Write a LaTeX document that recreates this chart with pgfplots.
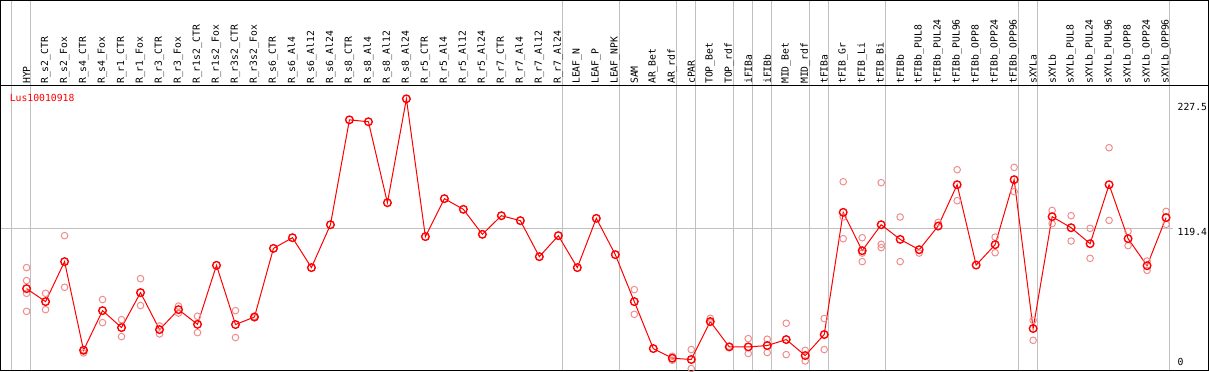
\documentclass[border=0pt]{standalone}
\usepackage{pgfplots}
\pgfplotsset{compat=1.18}
\usepackage{fontspec}
\newfontfamily\monof{DejaVu Sans Mono}
\definecolor{gridc}{RGB}{192,192,192}
\definecolor{rep}{RGB}{240,140,140}
\begin{document}
\begin{tikzpicture}
\begin{axis}[
  scale only axis, width=1209bp, height=370bp,
  xmin=-1.3677, xmax=62.23, ymin=1.58, ymax=309.25,
  xtick=\empty, ytick=\empty,
  axis line style={line width=1.2bp, black},
  clip=true,
]
% vertical group separators
\pgfplotsinvokeforeach{-0.78,0.22,28.22,31.22,34.22,35.22,37.22,38.22,39.22,41.22,42.22,45.22,52.22,53.22,60.18}{
  \draw[gridc, line width=1bp] (axis cs:#1,1.58) -- (axis cs:#1,309.25);
}
% horizontal reference line
\draw[gridc, line width=1bp] (axis cs:-1.3677,119.4) -- (axis cs:60.39,119.4);
% separator under labels
\draw[black, line width=1.2bp] (axis cs:-1.3677,238.57) -- (axis cs:62.23,238.57);

% replicates
\addplot[only marks, mark=o, color=rep, mark size=3.3bp, mark options={line width=1bp}] coordinates {
(0,87.0) (0,76.2) (0,65.6) (0,50.6)
(1,65.6) (1,52.0)
(2,113.6) (2,70.6)
(3,16.0) (3,18.5)
(4,60.4) (4,41.2)
(5,43.7) (5,29.6)
(6,77.8) (6,55.4)
(7,38.4) (7,31.8)
(8,55.0) (8,49.2)
(9,46.5) (9,32.9)
(11,51.2) (11,28.8)
(12,46.5) (12,45.3)
(32,68.7) (32,48.1)
(34,13.2) (34,9.9)
(35,18.8) (35,3.0)
(36,44.8) (36,41.5)
(37,21.5)
(38,27.9) (38,15.5)
(39,27.4) (39,16.3)
(40,40.7) (40,14.6)
(41,18.2) (41,9.3)
(42,44.6) (42,18.8)
(43,158.5) (43,129.1) (43,111.1)
(44,111.9) (44,99.1) (44,92.0)
(45,157.7) (45,106.4) (45,103.6)
(46,129.1) (46,92.0)
(47,99.1)
(48,124.6)
(49,168.5) (49,142.7)
(51,112.4) (51,99.4)
(52,170.4) (52,150.2)
(53,43.2) (53,26.5)
(54,134.6) (54,123.6)
(55,130.2) (55,109.1)
(56,119.7) (56,94.7)
(57,186.8) (57,126.3)
(58,117.2) (58,105.3)
(59,92.5) (59,84.7)
(60,133.8) (60,123.0)
};

% mean line
\addplot[red, line width=1bp, mark=o, mark size=3.8bp, mark options={line width=1.4bp, red}] coordinates {
(0,69.5) (1,58.7) (2,92.0) (3,18.2) (4,51.2) (5,37.1) (6,66.2) (7,35.4) (8,52.0) (9,39.8)
(10,88.9) (11,39.6) (12,45.9) (13,103.0) (14,111.9) (15,87.0) (16,122.7) (17,210.0) (18,208.4) (19,141.0)
(20,227.5) (21,112.8) (22,144.4) (23,135.5) (24,114.7) (25,130.2) (26,126.1) (27,96.1) (28,113.6) (29,87.0)
(30,128.0) (31,97.8) (32,58.7) (33,19.6) (34,11.6) (35,10.5) (36,42.1) (37,21.0) (38,21.0) (39,22.1)
(40,27.1) (41,13.8) (42,31.3) (43,133.0) (44,101.1) (45,122.7) (46,110.5) (47,101.9) (48,121.6) (49,156.0)
(50,89.1) (51,106.1) (52,160.2) (53,36.3) (54,129.4) (55,120.2) (56,106.9) (57,156.0) (58,111.1) (59,88.6)
(60,128.6)
};

% category labels
\foreach \lab [count=\i from 0] in {HYP,R\_s2\_CTR,R\_s2\_Fox,R\_s4\_CTR,R\_s4\_Fox,R\_r1\_CTR,R\_r1\_Fox,R\_r3\_CTR,R\_r3\_Fox,R\_r1s2\_CTR,R\_r1s2\_Fox,R\_r3s2\_CTR,R\_r3s2\_Fox,R\_s6\_CTR,R\_s6\_Al4,R\_s6\_Al12,R\_s6\_Al24,R\_s8\_CTR,R\_s8\_Al4,R\_s8\_Al12,R\_s8\_Al24,R\_r5\_CTR,R\_r5\_Al4,R\_r5\_Al12,R\_r5\_Al24,R\_r7\_CTR,R\_r7\_Al4,R\_r7\_Al12,R\_r7\_Al24,LEAF\_N,LEAF\_P,LEAF\_NPK,SAM,AR\_Bet,AR\_rdf,cPAR,TOP\_Bet,TOP\_rdf,iFIBa,iFIBb,MID\_Bet,MID\_rdf,tFIBa,tFIB\_Gr,tFIB\_Li,tFIB\_Bi,tFIBb,tFIBb\_PUL8,tFIBb\_PUL24,tFIBb\_PUL96,tFIBb\_OPP8,tFIBb\_OPP24,tFIBb\_OPP96,sXYLa,sXYLb,sXYLb\_PUL8,sXYLb\_PUL24,sXYLb\_PUL96,sXYLb\_OPP8,sXYLb\_OPP24,sXYLb\_OPP96}{
  \edef\temp{\noexpand\node[rotate=90, anchor=west, inner sep=0pt, font=\noexpand\monof\noexpand\fontsize{9.8}{10}\noexpand\selectfont] at (axis cs:\i,239.8) {\unexpanded\expandafter{\lab}};}
  \temp
}

% gene name
\node[anchor=west, inner sep=0pt, text=red, font=\monof\fontsize{9.8}{10}\selectfont] at (axis cs:-0.894,228.6) {Lus10010918};
% value labels
\node[anchor=west, inner sep=0pt, font=\monof\fontsize{9.8}{10}\selectfont] at (axis cs:60.60,220.5) {227.5};
\node[anchor=west, inner sep=0pt, font=\monof\fontsize{9.8}{10}\selectfont] at (axis cs:60.60,116.6) {119.4};
\node[anchor=west, inner sep=0pt, font=\monof\fontsize{9.8}{10}\selectfont] at (axis cs:60.60,8.5) {0};
\end{axis}
\end{tikzpicture}
\end{document}
